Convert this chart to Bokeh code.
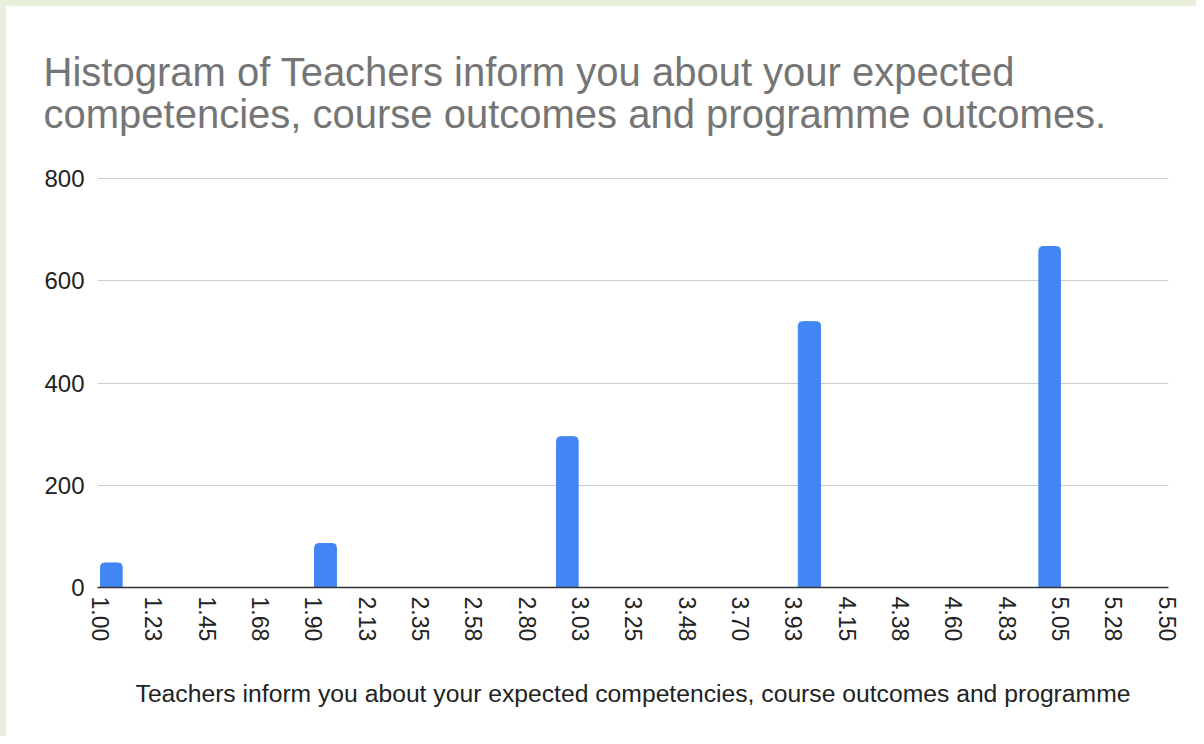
from bokeh.plotting import figure
from bokeh.models import Range1d, FixedTicker, ColumnDataSource, Title
from bokeh.embed import file_html
from bokeh.resources import INLINE

# ---- data ----
bin_left = [1.00, 1.903, 2.924, 3.944, 4.959]
bin_right = [1.091, 1.995, 3.015, 4.038, 5.050]
counts = [48, 86, 295, 520, 667]

x_tick_values = [1.0, 1.225, 1.45, 1.675, 1.9, 2.125, 2.35, 2.575, 2.8, 3.025,
                 3.25, 3.475, 3.7, 3.925, 4.15, 4.375, 4.6, 4.825, 5.05, 5.275, 5.5]
x_tick_labels = ["1.00", "1.23", "1.45", "1.68", "1.90", "2.13", "2.35", "2.58", "2.80", "3.03",
                 "3.25", "3.48", "3.70", "3.93", "4.15", "4.38", "4.60", "4.83", "5.05", "5.28", "5.50"]
y_tick_values = [0, 200, 400, 600, 800]

title_line1 = "Histogram of Teachers inform you about your expected"
title_line2 = "competencies, course outcomes and programme outcomes."
x_axis_title = "Teachers inform you about your expected competencies, course outcomes and programme"

FONT = "Liberation Sans"

p = figure(width=1196, height=736, output_backend="svg", toolbar_location=None,
           x_range=Range1d(0.987, 5.506), y_range=Range1d(0, 802),
           min_border_left=91, min_border_right=34, min_border_bottom=155, min_border_top=171,
           styles={"border-left": "6px solid #e8f0dc", "border-top": "6px solid #e8f0dc"})
p.title.visible = False
p.outline_line_color = None
p.background_fill_color = "white"
p.border_fill_color = "white"

src = ColumnDataSource(dict(left=bin_left, right=bin_right, top=counts, bottom=[0] * len(counts)))
p.quad(left="left", right="right", top="top", bottom="bottom", source=src,
       fill_color="#4285f4", line_color="#4285f4", line_width=1, border_radius=(4, 4, 0, 0))

# axes
p.xaxis.ticker = FixedTicker(ticks=x_tick_values)
p.xaxis.major_label_overrides = {v: s for v, s in zip(x_tick_values, x_tick_labels)}
p.xaxis.major_label_orientation = "vertical"
p.xaxis.major_tick_line_color = None
p.xaxis.major_tick_out = 0
p.xaxis.major_tick_in = 0
p.xaxis.minor_tick_line_color = None
p.xaxis.axis_line_color = "#333333"
p.xaxis.axis_line_width = 1.5
p.xaxis.major_label_text_font = FONT
p.xaxis.major_label_text_font_size = "23px"
p.xaxis.major_label_text_color = "#222222"
p.xaxis.major_label_standoff = 9
p.xaxis.axis_label = x_axis_title
p.xaxis.axis_label_text_font = FONT
p.xaxis.axis_label_text_font_size = "24.7px"
p.xaxis.axis_label_text_font_style = "normal"
p.xaxis.axis_label_text_color = "#222222"
p.xaxis.axis_label_standoff = 36

p.yaxis.ticker = FixedTicker(ticks=y_tick_values)
p.yaxis.major_tick_line_color = None
p.yaxis.major_tick_out = 0
p.yaxis.major_tick_in = 0
p.yaxis.minor_tick_line_color = None
p.yaxis.axis_line_color = None
p.yaxis.major_label_text_font = FONT
p.yaxis.major_label_text_font_size = "24px"
p.yaxis.major_label_text_color = "#222222"
p.yaxis.major_label_standoff = 13

p.xgrid.grid_line_color = None
p.ygrid.ticker = FixedTicker(ticks=y_tick_values)
p.ygrid.grid_line_color = "#cccccc"
p.ygrid.grid_line_width = 1

# two-line title
t = Title(text=title_line1 + "\n" + title_line2, align="left", offset=-54, standoff=83,
          text_font=FONT, text_font_size="40px", text_font_style="normal",
          text_color="#757575", text_line_height=0.96)
p.add_layout(t, "above")

open("out.html", "w").write(file_html(p, INLINE))
